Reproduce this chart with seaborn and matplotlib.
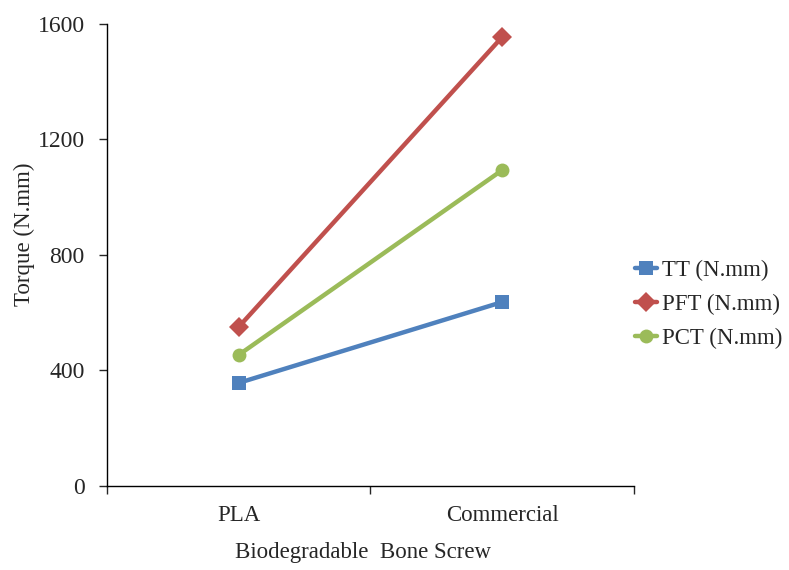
import numpy as np
import pandas as pd
import matplotlib.pyplot as plt
import seaborn as sns

screws = ["PLA", "Commercial"]
tt = [357, 637]
pft = [551, 1555]
pct = [454, 1094]
series_names = ["TT (N.mm)", "PFT (N.mm)", "PCT (N.mm)"]
colors = ["#4F81BD", "#C0504D", "#9BBB59"]
markers = ["s", "D", "o"]

df = pd.DataFrame({
    "screw": screws * 3,
    "torque": tt + pft + pct,
    "series": np.repeat(series_names, len(screws)),
})

sns.set_style("white")
plt.rcParams["font.family"] = ["Liberation Serif", "DejaVu Serif"]
fs = 16.5

fig = plt.figure(figsize=(7.89, 5.70), dpi=100)
ax = fig.add_axes([0.1356, 0.1474, 0.6679, 0.8105])

sns.lineplot(data=df, x="screw", y="torque", hue="series", style="series",
             palette=dict(zip(series_names, colors)),
             markers=dict(zip(series_names, markers)), dashes=False,
             linewidth=3.2, markersize=10, markeredgewidth=0, ax=ax, sort=False)

ax.set_xlim(-0.5, 1.5)
ax.set_ylim(0, 1600)
ax.set_yticks([0, 400, 800, 1200, 1600])
ax.set_xticks([0, 1])
ax.set_xticklabels(screws)
ax.set_xticks([-0.5, 0.5, 1.5], minor=True)
ax.tick_params(axis="x", which="major", length=0, pad=14, labelsize=fs)
ax.tick_params(axis="x", which="minor", length=6, width=1, direction="out", bottom=True)
ax.tick_params(axis="y", length=6, width=1, direction="out", left=True, labelsize=fs + 0.5, pad=10)

for s in ["top", "right"]:
    ax.spines[s].set_visible(False)
for s in ["left", "bottom"]:
    ax.spines[s].set_color("black")
    ax.spines[s].set_linewidth(1)

ax.set_xlabel("Biodegradable  Bone Screw", fontsize=fs)
ax.xaxis.set_label_coords(0.486, -0.122)
ax.set_ylabel("Torque (N.mm)", fontsize=fs)
ax.yaxis.set_label_coords(-0.136, 0.545)

leg = ax.legend(loc="center left", bbox_to_anchor=(0.962, 0.393), frameon=False,
                fontsize=fs, handlelength=1.0, handletextpad=0.2, labelspacing=0.58)

fig.savefig("out.png", dpi=100)
